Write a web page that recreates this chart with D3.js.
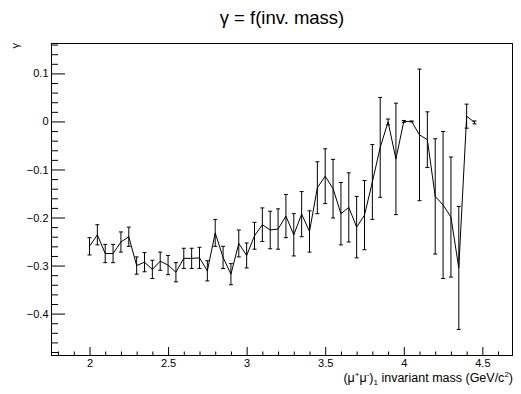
<!DOCTYPE html>
<html><head><meta charset="utf-8">
<script src="https://cdn.jsdelivr.net/npm/d3@7"></script>
<style>body{margin:0;background:#fff}svg{display:block}text{font-family:"Liberation Sans",Arial,sans-serif}</style>
</head><body><div id="chart"></div>
<script>
const masses = [2.00,2.05,2.10,2.15,2.20,2.25,2.30,2.35,2.40,2.45,2.50,2.55,2.60,2.65,2.70,2.75,2.80,2.85,2.90,2.95,
3.00,3.05,3.10,3.15,3.20,3.25,3.30,3.35,3.40,3.45,3.50,3.55,3.60,3.65,3.70,3.75,3.80,3.85,3.90,3.95,
4.00,4.05,4.10,4.15,4.20,4.25,4.30,4.35,4.40,4.45];
const gammaValues = [-0.260,-0.236,-0.275,-0.275,-0.251,-0.240,-0.300,-0.293,-0.308,-0.291,-0.299,-0.314,-0.285,-0.285,-0.284,-0.311,-0.232,-0.283,-0.318,-0.254,
-0.279,-0.238,-0.215,-0.226,-0.224,-0.197,-0.236,-0.193,-0.229,-0.138,-0.114,-0.140,-0.192,-0.179,-0.220,-0.195,-0.126,-0.054,-0.001,-0.078,
0.000,0.000,-0.028,-0.038,-0.156,-0.174,-0.199,-0.305,0.011,-0.002];
const gammaErrors = [0.018,0.021,0.019,0.019,0.021,0.020,0.018,0.020,0.019,0.019,0.020,0.020,0.021,0.021,0.022,0.021,0.028,0.023,0.022,0.028,
0.026,0.028,0.035,0.039,0.042,0.045,0.044,0.047,0.043,0.054,0.057,0.061,0.065,0.072,0.064,0.072,0.078,0.104,0.006,0.116,
0.002,0.001,0.137,0.058,0.120,0.153,0.125,0.128,0.025,0.003];
const xMajorTicks = [2,2.5,3,3.5,4,4.5];
const xTickLabels = ["2","2.5","3","3.5","4","4.5"];
const yMajorTicks = [-0.4,-0.3,-0.2,-0.1,0,0.1];
const yTickLabels = ["\u22120.4","\u22120.3","\u22120.2","\u22120.1","0","0.1"];

const W=521,H=394, L=51,R=513,T=43,B=356;
const svg=d3.select("#chart").append("svg").attr("width",W).attr("height",H);
svg.append("rect").attr("width",W).attr("height",H).attr("fill","#fff");
const x=d3.scaleLinear().domain([1.755,4.695]).range([L,R]);
const y=d3.scaleLinear().domain([-0.4883,0.1633]).range([B,T]);

const xMinor=d3.range(18,47).map(v=>v/10).filter(v=>!xMajorTicks.some(m=>Math.abs(m-v)<1e-6));
const yMinor=d3.range(-24,9).map(v=>v/50).filter(v=>!yMajorTicks.some(m=>Math.abs(m-v)<1e-6));

svg.append("g").attr("transform",`translate(0,${B})`)
  .call(d3.axisBottom(x).tickValues(xMajorTicks).tickFormat((d,i)=>xTickLabels[i]).tickSize(-9).tickPadding(3));
svg.append("g").attr("transform",`translate(0,${B})`)
  .call(d3.axisBottom(x).tickValues(xMinor).tickFormat("").tickSize(-4.5));
svg.append("g").attr("transform",`translate(${L},0)`)
  .call(d3.axisLeft(y).tickValues(yMajorTicks).tickFormat((d,i)=>yTickLabels[i]).tickSize(-14).tickPadding(2.5));
svg.append("g").attr("transform",`translate(${L},0)`)
  .call(d3.axisLeft(y).tickValues(yMinor).tickFormat("").tickSize(-7));
svg.selectAll(".domain").remove();
svg.selectAll(".tick line").attr("stroke","#000").attr("stroke-width",1);
svg.selectAll(".tick text").attr("font-size","11px").attr("fill","#000").style("font-family","'Liberation Sans',Arial,sans-serif");

svg.append("rect").attr("x",L+0.5).attr("y",T+0.5).attr("width",R-L-1).attr("height",B-T-1)
  .attr("fill","none").attr("stroke","#000").attr("stroke-width",1);

const pts=masses.map((m,i)=>({m,v:gammaValues[i],e:gammaErrors[i]}));
const g=svg.append("g");
g.append("path").datum(pts).attr("fill","none").attr("stroke","#000").attr("stroke-width",1)
  .attr("d",d3.line().x(d=>x(d.m)).y(d=>y(d.v)));
const eb=g.selectAll(".eb").data(pts).enter().append("g");
eb.append("line").attr("x1",d=>x(d.m)).attr("x2",d=>x(d.m)).attr("y1",d=>y(d.v+d.e)).attr("y2",d=>y(d.v-d.e)).attr("stroke","#000");
eb.append("line").attr("x1",d=>x(d.m)-2).attr("x2",d=>x(d.m)+2).attr("y1",d=>y(d.v+d.e)).attr("y2",d=>y(d.v+d.e)).attr("stroke","#000");
eb.append("line").attr("x1",d=>x(d.m)-2).attr("x2",d=>x(d.m)+2).attr("y1",d=>y(d.v-d.e)).attr("y2",d=>y(d.v-d.e)).attr("stroke","#000");

svg.append("text").attr("x",282).attr("y",24).attr("text-anchor","middle").attr("font-size","18.5px").text("\u03b3 = f(inv. mass)");
const xt=svg.append("text").attr("x",513).attr("y",382).attr("text-anchor","end").attr("font-size","12.5px");
xt.append("tspan").text("(\u03bc");
xt.append("tspan").attr("dy",-5).attr("font-size","8px").text("+");
xt.append("tspan").attr("dy",5).text("\u03bc");
xt.append("tspan").attr("dy",-5).attr("font-size","8px").text("-");
xt.append("tspan").attr("dy",5).text(")");
xt.append("tspan").attr("dy",3).attr("font-size","8px").text("1");
xt.append("tspan").attr("dy",-3).text(" invariant mass (GeV/c");
xt.append("tspan").attr("dy",-5).attr("font-size","8px").text("2");
xt.append("tspan").attr("dy",5).text(")");
svg.append("text").attr("transform","translate(19,43) rotate(-90)").attr("text-anchor","end").attr("font-size","11px").text("\u03b3");
</script></body></html>
